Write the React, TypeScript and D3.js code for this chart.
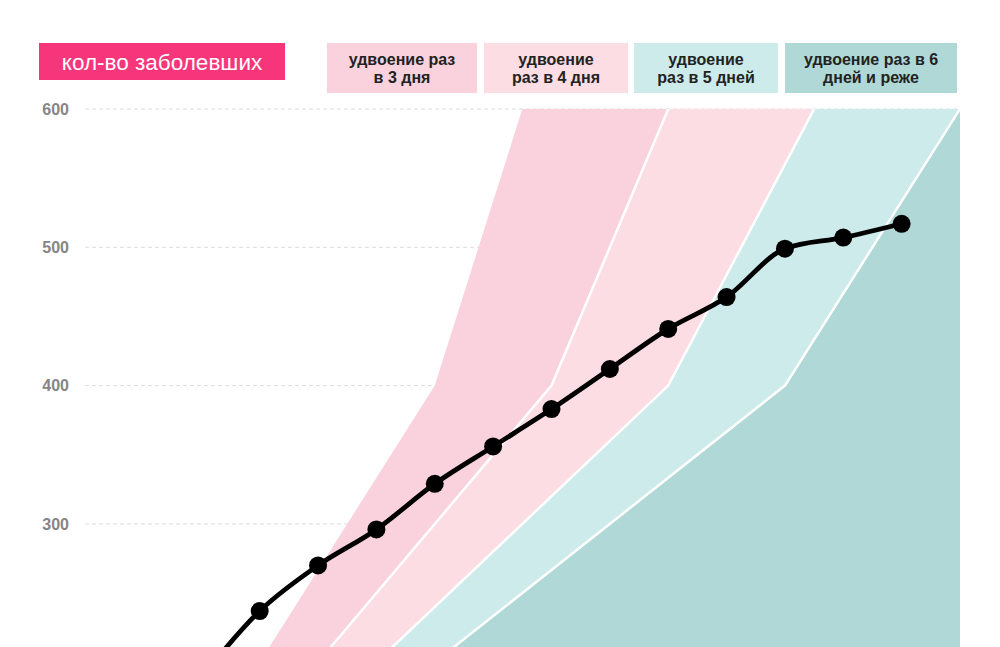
import React from "react";
import * as d3 from "d3";

// ---- data ----
const days = [-1, 0, 1, 2, 3, 4, 5, 6, 7, 8, 9, 10, 11];
const cases = [189, 237, 270, 296, 329, 356, 383, 412, 441, 464, 499, 507, 517];

const yTicks = [300, 400, 500, 600];

// doubling guides: period in days, and the day when the guide passes 400 cases
const doublingPeriods = [3, 4, 5, 6];
const guideAnchorDays = [3, 5, 7, 9];
const guideAnchorValue = 400;
const guideValues = [100, 200, 400, 800, 1600];

const bandColors = ["#f9d2de", "#fbdde3", "#cdebea", "#afd8d7"];
const legendLabels = [
  ["удвоение раз", "в 3 дня"],
  ["удвоение", "раз в 4 дня"],
  ["удвоение", "раз в 5 дней"],
  ["удвоение раз в 6", "дней и реже"],
];
const legendBoxes = [
  [327, 477],
  [484, 628],
  [634, 778],
  [785, 957],
];
const mainLabel = "кол-во заболевших";

const W = 1000;
const H = 647;

export default function App() {
  const x = d3.scaleLinear().domain([0, 12]).range([259.7, 960]);
  const y = d3.scaleLinear().domain([200, 600]).range([662.2, 109]);

  const guides = doublingPeriods.map((n, i) =>
    guideValues.map((v) => ({
      day: guideAnchorDays[i] + n * Math.log2(v / guideAnchorValue),
      v,
    }))
  );
  const rightEdge = [
    { day: 30, v: 100 },
    { day: 30, v: 1600 },
  ];

  const toPts = (arr: { day: number; v: number }[]) =>
    arr.map((p) => [x(p.day), y(p.v)] as [number, number]);

  const bands = bandColors.map((c, i) => {
    const left = toPts(guides[i]);
    const right = i < 3 ? toPts(guides[i + 1]) : toPts(rightEdge);
    const poly = [...left, ...right.slice().reverse()];
    return { c, d: "M" + poly.map((p) => p.join(",")).join("L") + "Z" };
  });

  const guideLine = d3
    .line<{ day: number; v: number }>()
    .x((d) => x(d.day))
    .y((d) => y(d.v));

  const dataPts = days.map((d, i) => ({ day: d, v: cases[i] }));
  const casesLine = d3
    .line<{ day: number; v: number }>()
    .x((d) => x(d.day))
    .y((d) => y(d.v))
    .curve(d3.curveMonotoneX);

  const font = "'Liberation Sans', Arial, Helvetica, sans-serif";

  return (
    <svg
      width={W}
      height={H}
      style={{ position: "absolute", left: 0, top: 0, background: "#fff" }}
      fontFamily={font}
    >
      <defs>
        <clipPath id="plotClip">
          <rect x={0} y={y(600)} width={x(12)} height={H} />
        </clipPath>
      </defs>

      {/* grid */}
      {yTicks.map((t) => (
        <g key={t}>
          <line
            x1={85}
            x2={x(12)}
            y1={y(t)}
            y2={y(t)}
            stroke="#dcdcdc"
            strokeWidth={1}
            strokeDasharray="4,3"
          />
          <text
            x={69}
            y={y(t)}
            dy="0.36em"
            textAnchor="end"
            fontSize={16}
            fontWeight={700}
            fill="#858585"
          >
            {t}
          </text>
        </g>
      ))}

      {/* bands */}
      <g clipPath="url(#plotClip)">
        {bands.map((b, i) => (
          <path key={i} d={b.d} fill={b.c} />
        ))}
        {guides.slice(1).map((g, i) => (
          <path
            key={i}
            d={guideLine(g) || ""}
            fill="none"
            stroke="#fff"
            strokeWidth={2.5}
          />
        ))}
      </g>

      {/* cases line */}
      <path
        d={casesLine(dataPts) || ""}
        fill="none"
        stroke="#000"
        strokeWidth={4.8}
        strokeLinejoin="round"
      />
      {dataPts
        .filter((d) => d.day >= 0)
        .map((d, i) => (
          <circle key={i} cx={x(d.day)} cy={y(d.v)} r={9} fill="#000" />
        ))}

      {/* legend */}
      <rect x={39} y={43} width={246} height={37} fill="#f7357a" />
      <text
        x={162}
        y={69.5}
        textAnchor="middle"
        fontSize={22.5}
        fill="#fff"
      >
        {mainLabel}
      </text>
      {legendBoxes.map(([a, b], i) => (
        <g key={i}>
          <rect x={a} y={43} width={b - a} height={50} fill={bandColors[i]} />
          {legendLabels[i].map((l, j) => (
            <text
              key={j}
              x={(a + b) / 2}
              y={65 + j * 18.3}
              textAnchor="middle"
              fontSize={16}
              fontWeight={700}
              fill="#222"
            >
              {l}
            </text>
          ))}
        </g>
      ))}
    </svg>
  );
}
